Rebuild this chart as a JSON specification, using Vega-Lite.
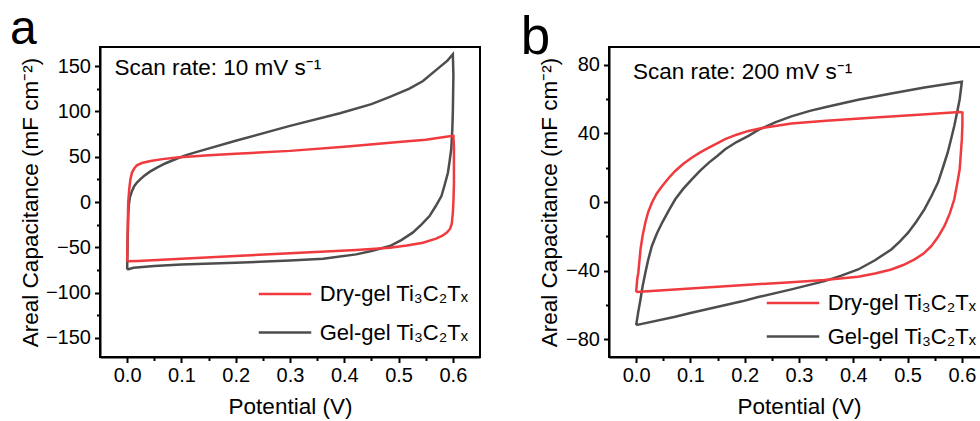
{
  "$schema": "https://vega.github.io/schema/vega-lite/v6.json",
  "padding": {"left": 8, "top": 5, "right": 0, "bottom": 0},
  "background": "white",
  "spacing": 38,
  "config": {
    "font": "Liberation Sans",
    "text": {"font": "Liberation Sans"},
    "view": {"stroke": "#000", "strokeWidth": 2},
    "axis": {
      "grid": false, "domainColor": "#000", "domainWidth": 2, "tickColor": "#000", "tickWidth": 2,
      "labelColor": "#000", "titleColor": "#000", "labelFont": "Liberation Sans", "titleFont": "Liberation Sans",
      "labelFontSize": 20, "titleFontSize": 22.5, "titleFontWeight": "normal", "labelOverlap": false, "labelFlush": false
    },
    "legend": {
      "title": null, "symbolType": "M-2.5,0H2.5", "symbolSize": 441, "symbolStrokeWidth": 2.5,
      "labelFontSize": 22, "labelFont": "Liberation Sans", "labelColor": "#000", "labelOffset": 22.75, "padding": 0
    }
  },
  "datasets": {
    "aGel": [
      {"i":0,"v":0,"c":-74.4},{"i":1,"v":0.001,"c":-40},{"i":2,"v":0.002,"c":-15},{"i":3,"v":0.003,"c":-4},{"i":4,"v":0.005,"c":5},
      {"i":5,"v":0.009,"c":12.2},{"i":6,"v":0.013,"c":17.5},{"i":7,"v":0.018,"c":21.4},{"i":8,"v":0.025,"c":25.5},{"i":9,"v":0.031,"c":28.7},
      {"i":10,"v":0.042,"c":33.5},{"i":11,"v":0.055,"c":38},{"i":12,"v":0.07,"c":42.5},{"i":13,"v":0.092,"c":48},{"i":14,"v":0.11,"c":52},
      {"i":15,"v":0.135,"c":56.4},{"i":16,"v":0.2,"c":67.5},{"i":17,"v":0.3,"c":84},{"i":18,"v":0.392,"c":98},{"i":19,"v":0.45,"c":108},
      {"i":20,"v":0.484,"c":116},{"i":21,"v":0.52,"c":125},{"i":22,"v":0.545,"c":133.5},{"i":23,"v":0.575,"c":148.5},{"i":24,"v":0.59,"c":156},
      {"i":25,"v":0.6,"c":163},{"i":26,"v":0.601,"c":140},{"i":27,"v":0.6,"c":100},{"i":28,"v":0.599,"c":80},{"i":29,"v":0.597,"c":58.2},
      {"i":30,"v":0.594,"c":45},{"i":31,"v":0.591,"c":32.5},{"i":32,"v":0.585,"c":19},{"i":33,"v":0.579,"c":6.6},{"i":34,"v":0.568,"c":-5},
      {"i":35,"v":0.557,"c":-15.5},{"i":36,"v":0.542,"c":-25},{"i":37,"v":0.526,"c":-33.8},{"i":38,"v":0.505,"c":-42},{"i":39,"v":0.484,"c":-48.6},
      {"i":40,"v":0.45,"c":-54},{"i":41,"v":0.422,"c":-57.8},{"i":42,"v":0.361,"c":-62.5},{"i":43,"v":0.3,"c":-64.5},{"i":44,"v":0.2,"c":-67},
      {"i":45,"v":0.1,"c":-69},{"i":46,"v":0.05,"c":-70.5},{"i":47,"v":0.012,"c":-72.5},{"i":48,"v":0,"c":-74.4}
    ],
    "aDry": [
      {"i":0,"v":0,"c":-65.5},{"i":1,"v":0.001,"c":-30},{"i":2,"v":0.002,"c":0},{"i":3,"v":0.004,"c":15},{"i":4,"v":0.006,"c":25},
      {"i":5,"v":0.009,"c":32.5},{"i":6,"v":0.013,"c":37},{"i":7,"v":0.018,"c":40.5},{"i":8,"v":0.027,"c":43},{"i":9,"v":0.043,"c":45.3},
      {"i":10,"v":0.065,"c":47.3},{"i":11,"v":0.092,"c":49},{"i":12,"v":0.15,"c":51.5},{"i":13,"v":0.2,"c":53.3},{"i":14,"v":0.3,"c":56.4},
      {"i":15,"v":0.4,"c":61},{"i":16,"v":0.453,"c":63.8},{"i":17,"v":0.5,"c":66.2},{"i":18,"v":0.55,"c":68.8},{"i":19,"v":0.597,"c":72.9},
      {"i":20,"v":0.601,"c":73},{"i":21,"v":0.602,"c":60},{"i":22,"v":0.602,"c":20},{"i":23,"v":0.601,"c":0},{"i":24,"v":0.6,"c":-11.7},
      {"i":25,"v":0.598,"c":-24},{"i":26,"v":0.595,"c":-29.5},{"i":27,"v":0.589,"c":-33.8},{"i":28,"v":0.58,"c":-37.5},{"i":29,"v":0.569,"c":-40.4},
      {"i":30,"v":0.545,"c":-44.9},{"i":31,"v":0.515,"c":-48},{"i":32,"v":0.484,"c":-50.4},{"i":33,"v":0.422,"c":-53},{"i":34,"v":0.3,"c":-56.5},
      {"i":35,"v":0.2,"c":-59.5},{"i":36,"v":0.1,"c":-62.5},{"i":37,"v":0.02,"c":-65},{"i":38,"v":0,"c":-65.5}
    ],
    "bGel": [
      {"i":0,"v":0,"c":-71.9},{"i":1,"v":0.004,"c":-64},{"i":2,"v":0.008,"c":-56.9},{"i":3,"v":0.012,"c":-49},{"i":4,"v":0.017,"c":-41.3},
      {"i":5,"v":0.022,"c":-34},{"i":6,"v":0.029,"c":-25.7},{"i":7,"v":0.038,"c":-18.5},{"i":8,"v":0.048,"c":-12},{"i":9,"v":0.06,"c":-5},
      {"i":10,"v":0.072,"c":1.6},{"i":11,"v":0.087,"c":7.8},{"i":12,"v":0.103,"c":13.3},{"i":13,"v":0.118,"c":18.3},{"i":14,"v":0.134,"c":23},
      {"i":15,"v":0.15,"c":27},{"i":16,"v":0.164,"c":30.8},{"i":17,"v":0.185,"c":35},{"i":18,"v":0.207,"c":38.6},{"i":19,"v":0.226,"c":42.2},
      {"i":20,"v":0.256,"c":46.5},{"i":21,"v":0.286,"c":50},{"i":22,"v":0.32,"c":53.2},{"i":23,"v":0.35,"c":55.5},{"i":24,"v":0.409,"c":59.7},
      {"i":25,"v":0.47,"c":63.3},{"i":26,"v":0.531,"c":66.9},{"i":27,"v":0.6,"c":70.2},{"i":28,"v":0.596,"c":60},{"i":29,"v":0.591,"c":52},
      {"i":30,"v":0.586,"c":44.4},{"i":31,"v":0.58,"c":36.5},{"i":32,"v":0.574,"c":28.9},{"i":33,"v":0.565,"c":20},{"i":34,"v":0.556,"c":11.3},
      {"i":35,"v":0.544,"c":3.5},{"i":36,"v":0.531,"c":-4.3},{"i":37,"v":0.516,"c":-11.5},{"i":38,"v":0.501,"c":-17.9},{"i":39,"v":0.486,"c":-23},
      {"i":40,"v":0.47,"c":-27.7},{"i":41,"v":0.44,"c":-34},{"i":42,"v":0.409,"c":-39.4},{"i":43,"v":0.378,"c":-43},{"i":44,"v":0.347,"c":-46.2},
      {"i":45,"v":0.286,"c":-51},{"i":46,"v":0.225,"c":-55.5},{"i":47,"v":0.195,"c":-58},{"i":48,"v":0.1,"c":-64.8},{"i":49,"v":0.072,"c":-67},
      {"i":50,"v":0,"c":-71.9}
    ],
    "bDry": [
      {"i":0,"v":0,"c":-52.6},{"i":1,"v":0.002,"c":-45},{"i":2,"v":0.004,"c":-41.3},{"i":3,"v":0.008,"c":-27.7},{"i":4,"v":0.012,"c":-19.5},
      {"i":5,"v":0.017,"c":-12},{"i":6,"v":0.022,"c":-6},{"i":7,"v":0.029,"c":-0.4},{"i":8,"v":0.038,"c":5},{"i":9,"v":0.048,"c":9.4},
      {"i":10,"v":0.06,"c":14},{"i":11,"v":0.072,"c":18.1},{"i":12,"v":0.087,"c":22.3},{"i":13,"v":0.103,"c":26},{"i":14,"v":0.118,"c":29},
      {"i":15,"v":0.134,"c":31.8},{"i":16,"v":0.15,"c":34.4},{"i":17,"v":0.164,"c":36.7},{"i":18,"v":0.185,"c":39.3},{"i":19,"v":0.207,"c":41.5},
      {"i":20,"v":0.23,"c":43.1},{"i":21,"v":0.256,"c":44.4},{"i":22,"v":0.286,"c":45.8},{"i":23,"v":0.35,"c":47.5},{"i":24,"v":0.44,"c":49.4},
      {"i":25,"v":0.52,"c":51},{"i":26,"v":0.596,"c":52.6},{"i":27,"v":0.601,"c":52.3},{"i":28,"v":0.601,"c":45},{"i":29,"v":0.6,"c":36.7},
      {"i":30,"v":0.598,"c":28},{"i":31,"v":0.596,"c":19.1},{"i":32,"v":0.591,"c":10},{"i":33,"v":0.586,"c":1.6},{"i":34,"v":0.578,"c":-6.5},
      {"i":35,"v":0.568,"c":-14},{"i":36,"v":0.556,"c":-20.5},{"i":37,"v":0.544,"c":-25.7},{"i":38,"v":0.53,"c":-30},{"i":39,"v":0.513,"c":-33.5},
      {"i":40,"v":0.492,"c":-36.8},{"i":41,"v":0.47,"c":-39.4},{"i":42,"v":0.44,"c":-41.7},{"i":43,"v":0.409,"c":-43.6},{"i":44,"v":0.347,"c":-45.6},
      {"i":45,"v":0.286,"c":-46.8},{"i":46,"v":0.2,"c":-48.5},{"i":47,"v":0.1,"c":-50.5},{"i":48,"v":0,"c":-52.6}
    ]
  },
  "hconcat": [
    {
      "width": 380, "height": 310,
      "layer": [
        {
          "data": {"name": "aGel"},
          "mark": {"type": "line", "strokeWidth": 2.5},
          "encoding": {
            "x": {"field": "v", "type": "quantitative", "scale": {"domain": [-0.05, 0.65], "nice": false, "zero": false},
              "axis": {"orient": "bottom", "values": [0, 0.1, 0.2, 0.3, 0.4, 0.5, 0.6], "format": ".1f", "tickSize": 5.5, "labelPadding": 3, "title": "Potential (V)", "titlePadding": 10}},
            "y": {"field": "c", "type": "quantitative", "scale": {"domain": [-171, 171], "nice": false, "zero": false},
              "axis": {"orient": "left", "values": [-150, -100, -50, 0, 50, 100, 150], "tickSize": 5.5, "labelPadding": 4, "title": "Areal Capacitance (mF cm⁻²)", "titlePadding": 3}},
            "color": {"datum": "Gel-gel Ti₃C₂Tₓ", "type": "nominal",
              "scale": {"domain": ["Dry-gel Ti₃C₂Tₓ", "Gel-gel Ti₃C₂Tₓ"], "range": ["#F03A3E", "#4D4D4D"]},
              "legend": {"orient": "none", "legendX": 173, "legendY": 235, "rowPadding": 15.5}},
            "order": {"field": "i", "type": "quantitative"}
          }
        },
        {
          "data": {"name": "aDry"},
          "mark": {"type": "line", "strokeWidth": 2.5},
          "encoding": {
            "x": {"field": "v", "type": "quantitative", "scale": {"domain": [-0.05, 0.65], "nice": false, "zero": false}, "axis": null},
            "y": {"field": "c", "type": "quantitative", "scale": {"domain": [-171, 171], "nice": false, "zero": false}, "axis": null},
            "color": {"datum": "Dry-gel Ti₃C₂Tₓ", "type": "nominal"},
            "order": {"field": "i", "type": "quantitative"}
          }
        },
        {
          "data": {"values": [{}]},
          "mark": {"type": "text", "align": "left", "baseline": "alphabetic", "fontSize": 22.5, "text": "Scan rate: 10 mV s⁻¹", "color": "#000", "font": "Liberation Sans"},
          "encoding": {
            "x": {"datum": -0.0233, "type": "quantitative", "scale": {"domain": [-0.05, 0.65], "nice": false, "zero": false},
              "axis": {"orient": "bottom", "values": [0.05, 0.15, 0.25, 0.35, 0.45, 0.55], "labels": false, "domain": false, "tickSize": 3.5, "title": null}},
            "y": {"datum": 140, "type": "quantitative", "scale": {"domain": [-171, 171], "nice": false, "zero": false},
              "axis": {"orient": "left", "values": [-125, -75, -25, 25, 75, 125], "labels": false, "domain": false, "tickSize": 3.5, "title": null}}
          }
        },
        {
          "data": {"values": [{}]},
          "mark": {"type": "text", "align": "left", "baseline": "alphabetic", "fontSize": 48, "text": "a", "color": "#000", "font": "Liberation Sans"},
          "encoding": {
            "x": {"datum": -0.216, "type": "quantitative", "axis": null},
            "y": {"datum": 174.3, "type": "quantitative", "axis": null}
          }
        }
      ],
      "resolve": {"axis": {"x": "independent", "y": "independent"}}
    },
    {
      "width": 380, "height": 310,
      "layer": [
        {
          "data": {"name": "bGel"},
          "mark": {"type": "line", "strokeWidth": 2.5},
          "encoding": {
            "x": {"field": "v", "type": "quantitative", "scale": {"domain": [-0.05, 0.65], "nice": false, "zero": false},
              "axis": {"orient": "bottom", "values": [0, 0.1, 0.2, 0.3, 0.4, 0.5, 0.6], "format": ".1f", "tickSize": 5.5, "labelPadding": 3, "title": "Potential (V)", "titlePadding": 10}},
            "y": {"field": "c", "type": "quantitative", "scale": {"domain": [-90.5, 90.5], "nice": false, "zero": false},
              "axis": {"orient": "left", "values": [-80, -40, 0, 40, 80], "tickSize": 5.5, "labelPadding": 4, "title": "Areal Capacitance (mF cm⁻²)", "titlePadding": 4}},
            "color": {"datum": "Gel-gel Ti₃C₂Tₓ", "type": "nominal",
              "legend": {"orient": "none", "legendX": 172, "legendY": 244, "rowPadding": 10.5}},
            "order": {"field": "i", "type": "quantitative"}
          }
        },
        {
          "data": {"name": "bDry"},
          "mark": {"type": "line", "strokeWidth": 2.5},
          "encoding": {
            "x": {"field": "v", "type": "quantitative", "scale": {"domain": [-0.05, 0.65], "nice": false, "zero": false}, "axis": null},
            "y": {"field": "c", "type": "quantitative", "scale": {"domain": [-90.5, 90.5], "nice": false, "zero": false}, "axis": null},
            "color": {"datum": "Dry-gel Ti₃C₂Tₓ", "type": "nominal"},
            "order": {"field": "i", "type": "quantitative"}
          }
        },
        {
          "data": {"values": [{}]},
          "mark": {"type": "text", "align": "left", "baseline": "alphabetic", "fontSize": 22.5, "text": "Scan rate: 200 mV s⁻¹", "color": "#000", "font": "Liberation Sans"},
          "encoding": {
            "x": {"datum": -0.006, "type": "quantitative", "scale": {"domain": [-0.05, 0.65], "nice": false, "zero": false},
              "axis": {"orient": "bottom", "values": [0.05, 0.15, 0.25, 0.35, 0.45, 0.55], "labels": false, "domain": false, "tickSize": 3.5, "title": null}},
            "y": {"datum": 71.8, "type": "quantitative", "scale": {"domain": [-90.5, 90.5], "nice": false, "zero": false},
              "axis": {"orient": "left", "values": [-60, -20, 20, 60], "labels": false, "domain": false, "tickSize": 3.5, "title": null}}
          }
        },
        {
          "data": {"values": [{}]},
          "mark": {"type": "text", "align": "left", "baseline": "alphabetic", "fontSize": 53, "text": "b", "color": "#000", "font": "Liberation Sans"},
          "encoding": {
            "x": {"datum": -0.2126, "type": "quantitative", "axis": null},
            "y": {"datum": 86.4, "type": "quantitative", "axis": null}
          }
        }
      ],
      "resolve": {"axis": {"x": "independent", "y": "independent"}}
    }
  ],
  "resolve": {"legend": {"color": "independent"}}
}
